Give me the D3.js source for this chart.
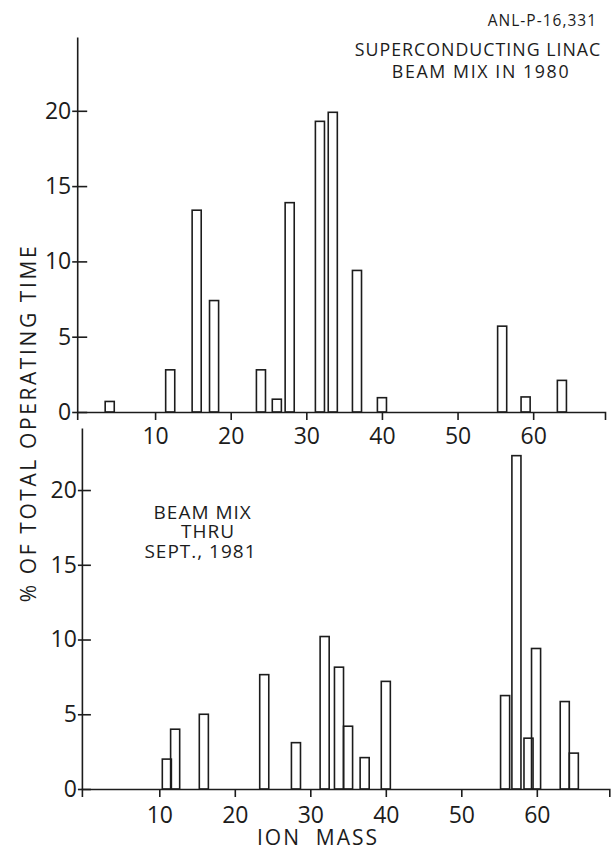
<!DOCTYPE html>
<html>
<head>
<meta charset="utf-8">
<script src="https://cdn.jsdelivr.net/npm/d3@7"></script>
<style>
  body { margin: 0; background: #fff; }
  svg { display: block; }
  text { font-family: "Open Sans", "DejaVu Sans", sans-serif; fill: #1c1c1c; }
</style>
</head>
<body>
<svg></svg>
<script>
// beam mix in 1980 (upper panel)
let mass1980 = [4, 12, 15.5, 17.8, 24, 26.1, 27.8, 31.8, 33.5, 36.7, 40, 55.9, 59, 63.8];
let pct1980 = [0.7, 2.8, 13.4, 7.4, 2.8, 0.85, 13.9, 19.3, 19.9, 9.4, 0.95, 5.7, 1.0, 2.1];

// beam mix thru Sept. 1981 (lower panel)
let mass1981 = [11, 12.1, 15.9, 23.9, 28.1, 31.9, 33.8, 35, 37.2, 40, 55.8, 57.3, 58.9, 59.9, 63.7, 64.9];
let pct1981 = [2.0, 4.0, 5.0, 7.65, 3.1, 10.2, 8.15, 4.2, 2.1, 7.2, 6.25, 22.3, 3.4, 9.4, 5.85, 2.4];

let massTicks = [10, 20, 30, 40, 50, 60];
let pctTicks = [0, 5, 10, 15, 20];

let width = 614;
let height = 847;
let barWidth = 1.2; // in mass units
let ink = "#1c1c1c";

let svg = d3.select("svg")
    .attr("width", width)
    .attr("height", height);

let panels = [
    {
        mass: mass1980, pct: pct1980,
        x: d3.scaleLinear().domain([-0.3, 69.5]).range([77.2, 605]),
        y: d3.scaleLinear().domain([0, 24.9]).range([412, 37]),
        tickLeft: 5, tickRight: 10, labelPad: 8
    },
    {
        mass: mass1981, pct: pct1981,
        x: d3.scaleLinear().domain([-0.25, 69.6]).range([81.9, 609.3]),
        y: d3.scaleLinear().domain([0, 24.15]).range([789, 428]),
        tickLeft: 4, tickRight: 9, labelPad: 9.5
    }
];

let drawPanel = (p) => {
    let g = svg.append("g");
    let values = p.mass.map((m, i) => [m, p.pct[i]]);

    g.selectAll("rect")
        .data(values)
        .enter()
        .append("rect")
        .attr("x", (d) => p.x(d[0] - barWidth / 2))
        .attr("width", (d) => p.x(d[0] + barWidth / 2) - p.x(d[0] - barWidth / 2))
        .attr("y", (d) => p.y(d[1]))
        .attr("height", (d) => p.y(0) - p.y(d[1]))
        .attr("fill", "none")
        .attr("stroke", ink)
        .attr("stroke-width", 1.6);

    let xAxis = d3.axisBottom(p.x)
        .tickValues(massTicks)
        .tickFormat(d3.format("d"))
        .tickSizeOuter(0)
        .tickSize(8)
        .tickPadding(p.labelPad);

    let xg = g.append("g")
        .attr("transform", "translate(0, " + p.y(0) + ")")
        .call(xAxis);

    let yAxis = d3.axisLeft(p.y)
        .tickValues(pctTicks)
        .tickSizeOuter(0)
        .tickSizeInner(-p.tickRight)
        .tickPadding(p.tickLeft + 1);

    let yg = g.append("g")
        .attr("transform", "translate(" + p.x.range()[0] + ", 0)")
        .call(yAxis);
    yg.selectAll(".tick line").attr("x1", -p.tickLeft);

    [xg, yg].forEach((a) => {
        a.attr("font-size", 23)
            .attr("font-family", "'Open Sans', sans-serif");
        a.selectAll("path, line").attr("stroke", ink).attr("stroke-width", 1.6);
        a.selectAll("text").attr("fill", ink);
    });
}

panels.forEach(drawPanel);

// captions
svg.append("text")
    .attr("x", 597).attr("y", 26)
    .attr("text-anchor", "end")
    .attr("font-size", 15.5)
    .attr("letter-spacing", 1)
    .text("ANL-P-16,331");

svg.append("text")
    .attr("x", 478).attr("y", 56)
    .attr("text-anchor", "middle")
    .attr("font-size", 17.8)
    .attr("letter-spacing", 1)
    .text("SUPERCONDUCTING LINAC");

svg.append("text")
    .attr("x", 481).attr("y", 77.5)
    .attr("text-anchor", "middle")
    .attr("font-size", 17.8)
    .attr("letter-spacing", 1.6)
    .text("BEAM MIX IN 1980");

let note = ["BEAM MIX", "THRU", "SEPT., 1981"];
let noteX = [202.7, 208, 200.5];
svg.selectAll(".note")
    .data(note)
    .enter()
    .append("text")
    .attr("class", "note")
    .attr("x", (d, i) => noteX[i])
    .attr("y", (d, i) => 518.5 + i * 19.8)
    .attr("text-anchor", "middle")
    .attr("font-size", 19)
    .attr("letter-spacing", 1)
    .text((d) => d);

svg.append("text")
    .attr("transform", "translate(36, 423) rotate(-90)")
    .attr("text-anchor", "middle")
    .attr("font-size", 21)
    .attr("letter-spacing", 2.6)
    .style("white-space", "pre")
    .text("% OF TOTAL OPERATING TIME");

svg.append("text")
    .attr("x", 318).attr("y", 845)
    .attr("text-anchor", "middle")
    .attr("font-size", 21)
    .attr("letter-spacing", 2)
    .style("white-space", "pre")
    .text("ION  MASS");
</script>
</body>
</html>
